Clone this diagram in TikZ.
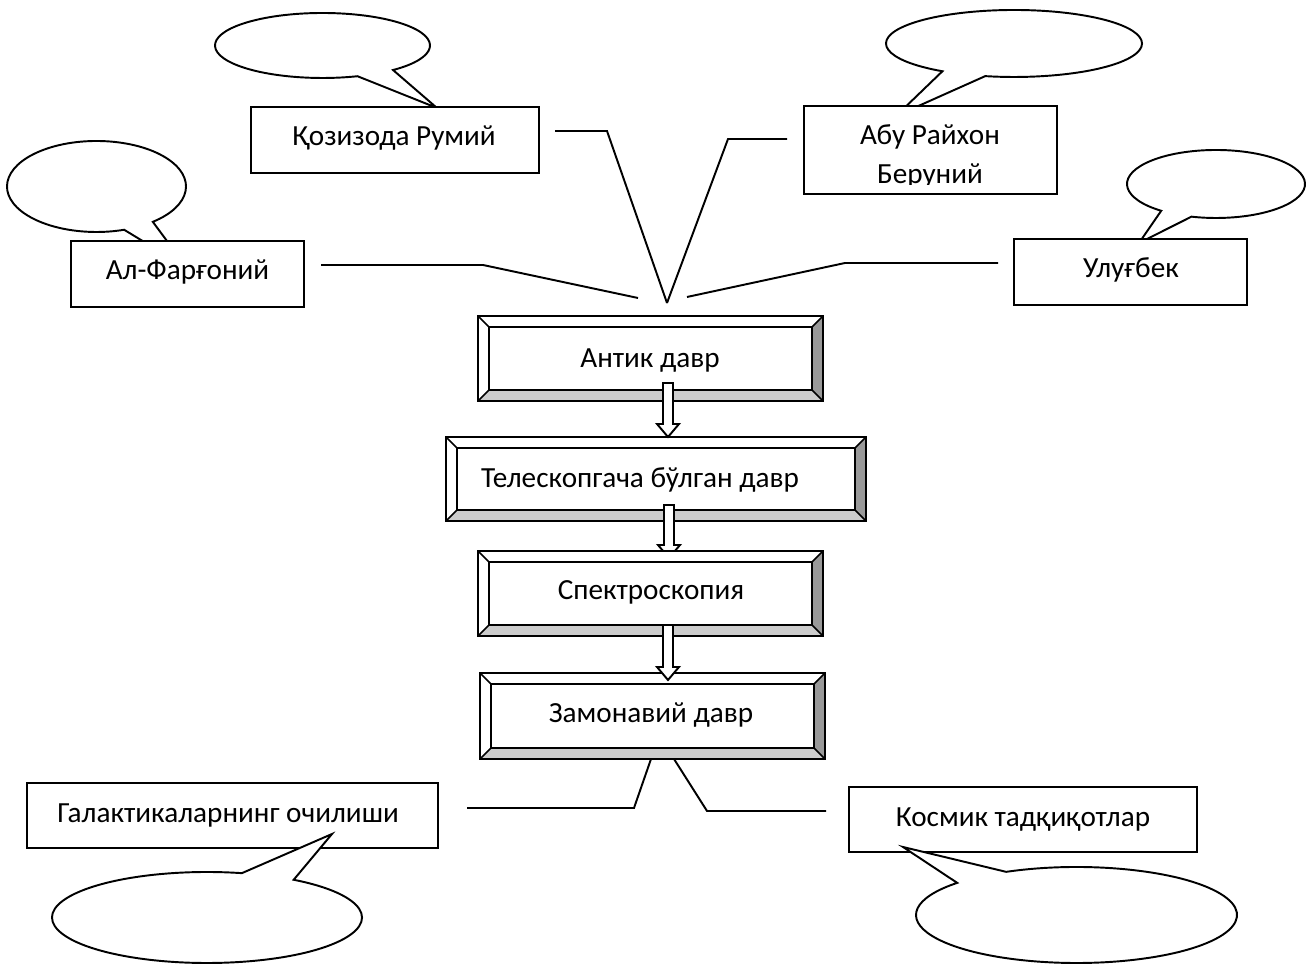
\documentclass[tikz,border=0pt]{standalone}
\usepackage{fontspec}
\setmainfont{Carlito}
\usetikzlibrary{calc,fit}

\definecolor{bevelright}{HTML}{999999}
\definecolor{bevelbottom}{HTML}{CCCCCC}

% Bevelled stage box: #1 name, #2 left, #3 top, #4 right, #5 bottom, #6 bevel depth
\newcommand\bevelbox[6]{%
  \fill[white] (#2,#3) rectangle (#4,#5);
  \fill[bevelright] (#4,#3) -- (#4,#5) -- ({#4-#6},{#5-#6}) -- ({#4-#6},{#3+#6}) -- cycle;
  \fill[bevelbottom] (#2,#5) -- (#4,#5) -- ({#4-#6},{#5-#6}) -- ({#2+#6},{#5-#6}) -- cycle;
  \draw[line width=0.45pt] (#2,#3) -- ({#2+#6},{#3+#6}) (#4,#3) -- ({#4-#6},{#3+#6})
        (#2,#5) -- ({#2+#6},{#5-#6}) (#4,#5) -- ({#4-#6},{#5-#6});
  \draw[line width=0.6pt] ({#2+#6},{#3+#6}) rectangle ({#4-#6},{#5-#6});
  \coordinate (#1-nw) at (#2,#3);
  \coordinate (#1-se) at (#4,#5);
  \node[fit=(#1-nw)(#1-se), inner sep=0pt, draw, line width=0.75pt] (#1) {};
}

% Hollow down arrow: #1 centre x, #2 tail y, #3 tip y
\newcommand\hollowarrow[3]{%
  \filldraw[hollow] ({#1-5},#2) -- ({#1-5},{#3-13}) -- ({#1-11},{#3-13}) -- (#1,#3)
    -- ({#1+11},{#3-13}) -- ({#1+5},{#3-13}) -- ({#1+5},#2) -- cycle;
}

\begin{document}
\begin{tikzpicture}[x=0.01cm,y=-0.01cm,
  txt/.style={font=\fontsize{8.3}{10}\selectfont, inner sep=0pt, anchor=base},
  labelbox/.style={draw, line width=0.7pt, fill=white, inner sep=0pt},
  callout/.style={draw, line width=0.55pt, fill=white, line join=miter},
  link/.style={line width=0.55pt},
  hollow/.style={draw, fill=white, line width=0.55pt},
]
\useasboundingbox (0,0) rectangle (1306,965);

% ---------- speech bubbles behind the upper name boxes ----------
\coordinate (e1) at (322.5,45.5);  \coordinate (t1) at (437,108);
\draw[callout] ($(e1)+(49:107.5 and 32.5)$) arc[start angle=49, end angle=-289, x radius=107.5, y radius=32.5] -- (t1) -- cycle;

\coordinate (e2) at (96.5,186.5);  \coordinate (t2) at (187,268);
\draw[callout] ($(e2)+(51:89.5 and 45.5)$) arc[start angle=51, end angle=-288, x radius=89.5, y radius=45.5] -- (t2) -- cycle;

\coordinate (e3) at (1014,43.5);   \coordinate (t3) at (896,116);
\draw[callout] ($(e3)+(124:128 and 33.5)$) arc[start angle=124, end angle=463, x radius=128, y radius=33.5] -- (t3) -- cycle;

\coordinate (e4) at (1216,184);    \coordinate (t4) at (1139,243);
\draw[callout] ($(e4)+(128:89 and 34)$) arc[start angle=128, end angle=466, x radius=89, y radius=34] -- (t4) -- cycle;

% ---------- upper name boxes ----------
\node[labelbox, minimum width=2.88cm, minimum height=0.66cm] (rumiy) at (395,140) {};
\node[txt] (rumiy-t) at (394,146) {Қозизода Румий};

\node[labelbox, minimum width=2.33cm, minimum height=0.66cm] (fargoniy) at (187.5,274) {};
\node[txt] (fargoniy-t) at (187.5,280) {Ал-Фарғоний};

\node[labelbox, minimum width=2.53cm, minimum height=0.88cm] (beruniy) at (930.5,150) {};
\begin{scope}
  \clip (beruniy.north west) rectangle ($(beruniy.east)+(0,34.5)$);
  \node[txt] (beruniy-t1) at (930,145) {Абу Райхон};
  \node[txt] (beruniy-t2) at (930,184) {Беруний};
\end{scope}

\node[labelbox, minimum width=2.33cm, minimum height=0.66cm] (ulugbek) at (1130.5,272) {};
\node[txt] (ulugbek-t) at (1131,278) {Улуғбек};

% ---------- connectors gathering at the first stage ----------
\coordinate (v) at (667,303);
\coordinate (r1) at (555,131);  \coordinate (r2) at (607,131);
\coordinate (b1) at (787,139);  \coordinate (b2) at (728,139);
\coordinate (f1) at (321,265);  \coordinate (f2) at (483,265);  \coordinate (f3) at (638,298);
\coordinate (u1) at (998,263);  \coordinate (u2) at (845,263);  \coordinate (u3) at (687,297);
\draw[link] (r1) -- (r2) -- (v);
\draw[link] (b1) -- (b2) -- (v);
\draw[link] (f1) -- (f2) -- (f3);
\draw[link] (u1) -- (u2) -- (u3);

% ---------- stages ----------
\bevelbox{antik}{478}{316}{823}{401}{11}
\node[txt] (antik-t) at (650,368) {Антик давр};

\bevelbox{teleskop}{446}{437}{866}{521}{11}
\node[txt] (teleskop-t) at (640,488) {Телескопгача бўлган давр};

\hollowarrow{668}{383}{437}
\hollowarrow{669}{505}{558}

\bevelbox{spektr}{478}{551}{823}{636}{11}
\node[txt] (spektr-t) at (651,600) {Спектроскопия};

\bevelbox{zamon}{480}{673}{825}{759}{11}
\node[txt] (zamon-t) at (651,723) {Замонавий давр};

\hollowarrow{668}{625}{680}

% ---------- connectors leaving the last stage ----------
\coordinate (g1) at (467,808);  \coordinate (g2) at (634,808);  \coordinate (g3) at (651,759);
\coordinate (k1) at (674,759);  \coordinate (k2) at (707,811);  \coordinate (k3) at (826,811);
\draw[link] (g1) -- (g2) -- (g3);
\draw[link] (k1) -- (k2) -- (k3);

% ---------- lower name boxes ----------
\node[labelbox, minimum width=4.11cm, minimum height=0.65cm] (galaktika) at (232.5,815.5) {};
\node[txt] (galaktika-t) at (228,823) {Галактикаларнинг очилиши};

\node[labelbox, minimum width=3.48cm, minimum height=0.65cm] (kosmik) at (1023,819.5) {};
\node[txt] (kosmik-t) at (1023,827) {Космик тадқиқотлар};

% ---------- speech bubbles over the lower name boxes ----------
\coordinate (e5) at (207,917.5);   \coordinate (t5) at (332,834);
\draw[callout] ($(e5)+(-56:155 and 45.5)$) arc[start angle=-56, end angle=283, x radius=155, y radius=45.5] -- (t5) -- cycle;

\coordinate (e6) at (1076.5,915);  \coordinate (t6) at (903,847);
\draw[callout] ($(e6)+(244:160.5 and 48)$) arc[start angle=244, end angle=582, x radius=160.5, y radius=48] -- (t6) -- cycle;

\end{tikzpicture}
\end{document}
